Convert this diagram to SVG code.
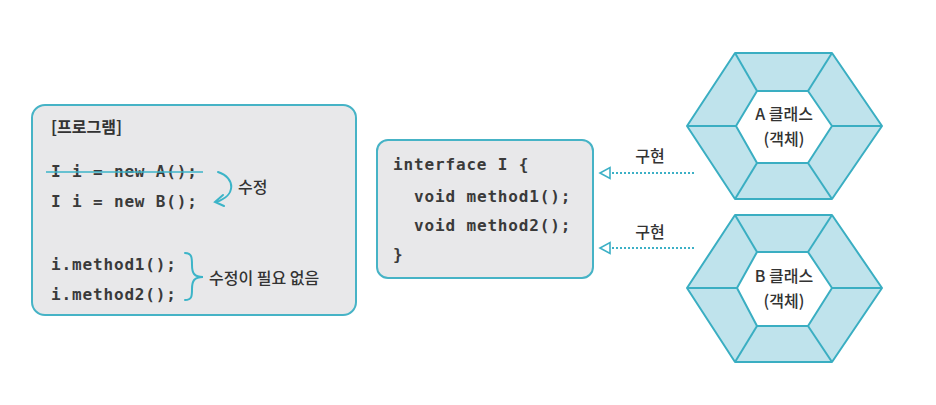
<svg xmlns="http://www.w3.org/2000/svg" width="936" height="405" viewBox="0 0 936 405">
<defs>
<style>
.box{fill:#e8e8ea;stroke:#46b3c6;stroke-width:2}
.code{font-family:"DejaVu Sans Mono","Liberation Mono",monospace;font-size:16px;font-weight:bold;letter-spacing:0.85px;fill:#3a3a3a}
.kr{font-family:"Noto Sans CJK KR","Noto Sans",sans-serif;font-size:16px;font-weight:500;fill:#333}
.hexo{fill:#bfe3ec;stroke:#3aaec2;stroke-width:2;stroke-linejoin:round}
.hexi{fill:#fff;stroke:#3aaec2;stroke-width:2;stroke-linejoin:round}
.spoke{stroke:#3aaec2;stroke-width:2}
.teal{fill:none;stroke:#3cb4c8;stroke-width:2;stroke-linecap:round}
.dot{fill:none;stroke:#3cb0c6;stroke-width:2;stroke-dasharray:2 2}
</style>
<marker id="tri" markerWidth="14" markerHeight="14" refX="12" refY="7" orient="auto" markerUnits="userSpaceOnUse">
<path d="M12,7 L2,1.5 L2,12.5 Z" fill="#fff" stroke="#3cb0c6" stroke-width="1.6"/>
</marker>
</defs>

<g id="program">
<rect class="box" x="32" y="105" width="324" height="210" rx="13"/>
<text x="51" y="133" font-family="Noto Sans CJK KR,sans-serif" font-size="16" font-weight="bold" fill="#333">[프로그램]</text>
<text class="code" x="51" y="177">I i = new A();</text>
<line x1="46" y1="172" x2="203" y2="172" stroke="#3cb4c8" stroke-width="1.6"/>
<text class="code" x="51" y="207">I i = new B();</text>
<text class="code" x="51" y="270">i.method1();</text>
<text class="code" x="51" y="300">i.method2();</text>
<path class="teal" d="M218,172 C236,178 236,196 216,202"/>
<path class="teal" d="M223,195 L215,202 L224,206"/>
<text class="kr" x="238" y="193" font-size="17">수정</text>
<path class="teal" d="M185,253 C192,253 192,258 192,265 C192,273 194,277 203,277 C194,277 192,281 192,289 C192,296 192,300 185,300"/>
<text class="kr" x="209" y="284" font-size="17">수정이 필요 없음</text>
</g>

<g id="interface">
<rect class="box" x="377" y="140" width="216" height="138" rx="11"/>
<text class="code" x="393" y="170">interface I {</text>
<text class="code" x="414" y="202">void method1();</text>
<text class="code" x="414" y="231">void method2();</text>
<text class="code" x="393" y="260">}</text>
</g>

<g id="classA">
<polygon class="hexo" points="735,53 832,53 882,126 832,199 735,199 687,126"/>
<polygon class="hexi" points="757,91 808,91 832,126 808,163 757,163 736,126"/>
<line class="spoke" x1="735" y1="53" x2="757" y2="91"/>
<line class="spoke" x1="832" y1="53" x2="808" y2="91"/>
<line class="spoke" x1="882" y1="126" x2="832" y2="126"/>
<line class="spoke" x1="832" y1="199" x2="808" y2="163"/>
<line class="spoke" x1="735" y1="199" x2="757" y2="163"/>
<line class="spoke" x1="687" y1="126" x2="736" y2="126"/>
<text class="kr" x="784" y="120" text-anchor="middle">A 클래스</text>
<text class="kr" x="784" y="145" text-anchor="middle" font-size="14">(객체)</text>
</g>

<g id="classB">
<polygon class="hexo" points="735,215 832,215 882,288 832,362 735,362 687,288"/>
<polygon class="hexi" points="757,252 808,252 832,288 808,326 757,326 737,288"/>
<line class="spoke" x1="735" y1="215" x2="757" y2="252"/>
<line class="spoke" x1="832" y1="215" x2="808" y2="252"/>
<line class="spoke" x1="882" y1="288" x2="832" y2="288"/>
<line class="spoke" x1="832" y1="362" x2="808" y2="326"/>
<line class="spoke" x1="735" y1="362" x2="757" y2="326"/>
<line class="spoke" x1="687" y1="288" x2="737" y2="288"/>
<text class="kr" x="784" y="282" text-anchor="middle">B 클래스</text>
<text class="kr" x="784" y="307" text-anchor="middle" font-size="14">(객체)</text>
</g>

<g id="connectors">
<line class="dot" x1="694" y1="173" x2="600" y2="173" marker-end="url(#tri)"/>
<text class="kr" x="650" y="162" text-anchor="middle">구현</text>
<line class="dot" x1="694" y1="248" x2="600" y2="248" marker-end="url(#tri)"/>
<text class="kr" x="650" y="238" text-anchor="middle">구현</text>
</g>
</svg>
